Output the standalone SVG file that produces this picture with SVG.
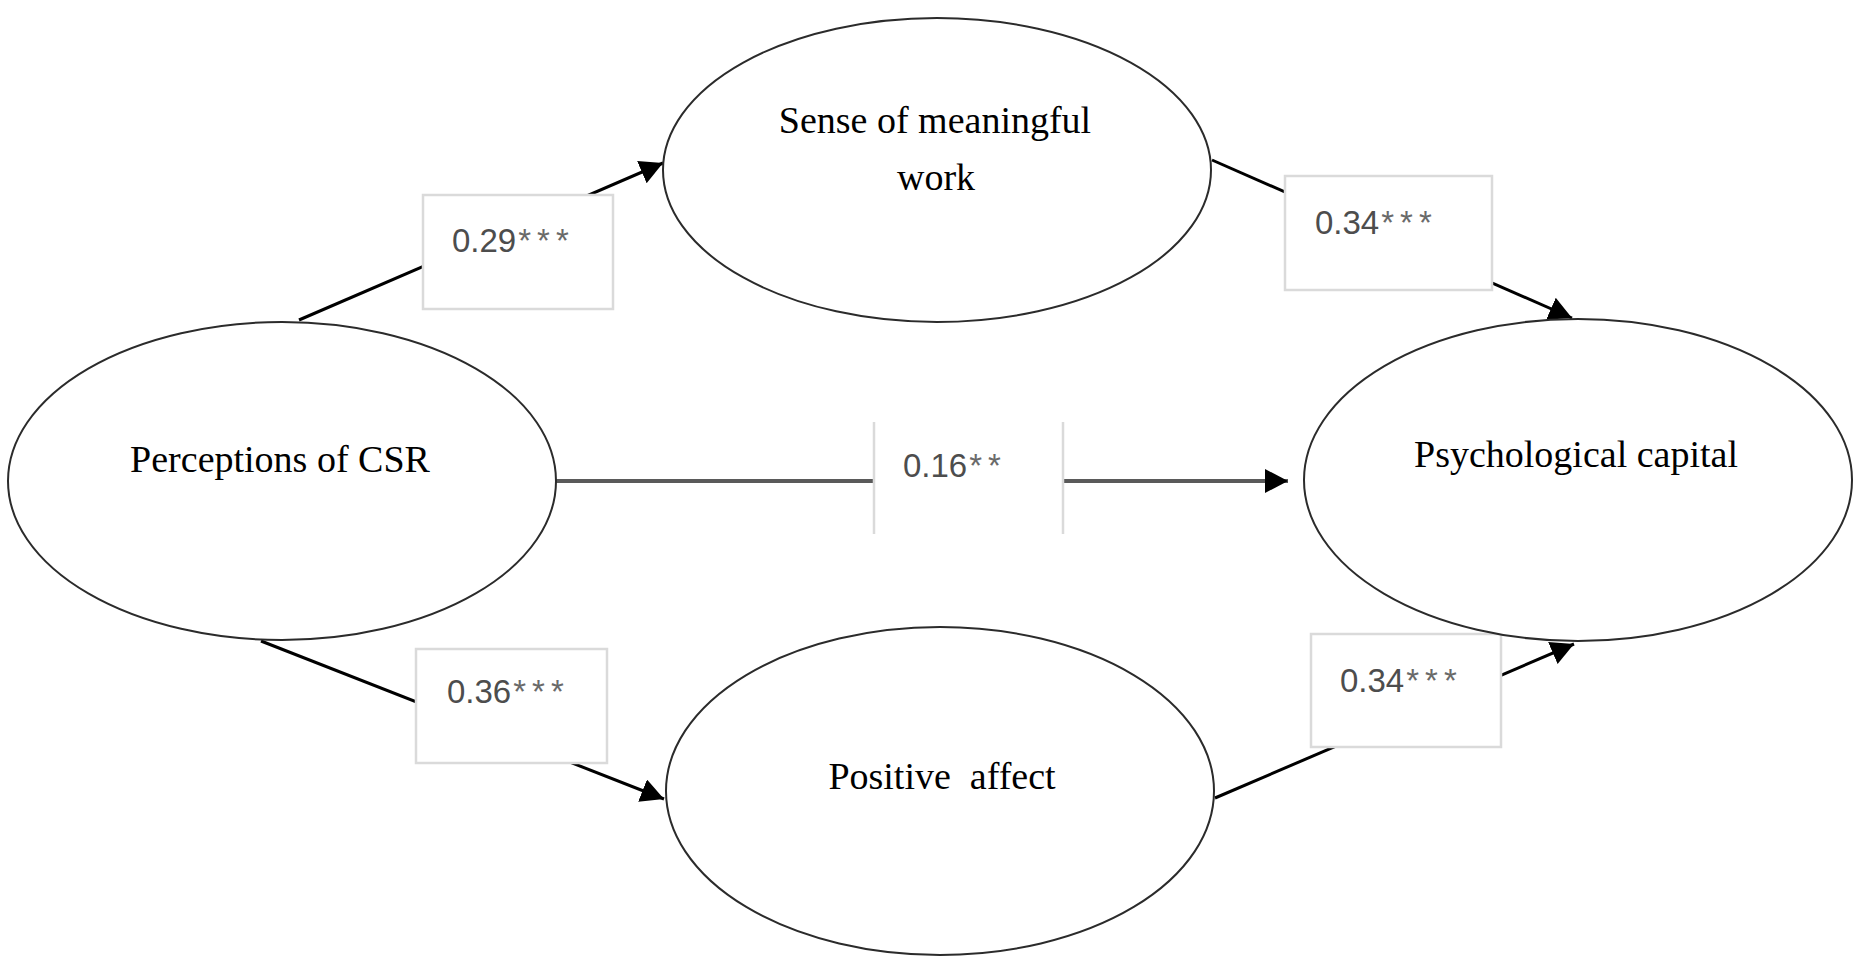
<svg xmlns="http://www.w3.org/2000/svg" width="1861" height="958" viewBox="0 0 1861 958">
  <style>
    .node ellipse { fill: #ffffff; stroke: #2b2b2b; stroke-width: 2; }
    .node text { font-family: "Liberation Serif", "Times New Roman", serif; font-size: 38px; fill: #000000; text-anchor: middle; }
    .edge { stroke: #000000; stroke-width: 3; fill: none; }
    .direct { stroke: #5a5a5a; stroke-width: 4; fill: none; }
    .label rect { fill: #ffffff; stroke: #dadada; stroke-width: 2.5; }
    .label rect.open { stroke: none; }
    .label line { stroke: #dadada; stroke-width: 2.5; }
    .label text { font-family: "Liberation Sans", Arial, sans-serif; font-size: 33px; fill: #4d4d4d; }
    .label tspan.sig { letter-spacing: 6px; fill: #6a6a6a; }
  </style>
  <defs>
    <marker id="arrow" markerUnits="userSpaceOnUse" markerWidth="26" markerHeight="26" refX="23" refY="12" orient="auto">
      <path d="M0,0 L23,12 L0,24 z" fill="#000000"/>
    </marker>
  </defs>
  <rect width="1861" height="958" fill="#ffffff"/>

  <!-- paths between constructs, with coefficient boxes on top -->
  <g id="connectors">
    <line class="edge" x1="299" y1="320" x2="663" y2="163" marker-end="url(#arrow)"/>
    <line class="edge" x1="1212" y1="160" x2="1572" y2="318" marker-end="url(#arrow)"/>
    <line class="edge" x1="261" y1="641" x2="664" y2="799" marker-end="url(#arrow)"/>
    <line class="edge" x1="1215" y1="798" x2="1574" y2="644" marker-end="url(#arrow)"/>
    <line class="direct" x1="556" y1="481" x2="1288" y2="481" marker-end="url(#arrow)"/>

    <g class="label" id="label-csr-meaning">
      <rect x="423" y="195" width="190" height="114"/>
      <text x="452" y="252">0.29<tspan class="sig" dx="2">***</tspan></text>
    </g>
    <g class="label" id="label-meaning-psycap">
      <rect x="1285" y="176" width="207" height="114"/>
      <text x="1315" y="234">0.34<tspan class="sig" dx="2">***</tspan></text>
    </g>
    <g class="label" id="label-csr-psycap">
      <rect class="open" x="874" y="422" width="189" height="112"/>
      <line x1="874" y1="422" x2="874" y2="534"/>
      <line x1="1063" y1="422" x2="1063" y2="534"/>
      <text x="903" y="477">0.16<tspan class="sig" dx="2">**</tspan></text>
    </g>
    <g class="label" id="label-csr-affect">
      <rect x="416" y="649" width="191" height="114"/>
      <text x="447" y="703">0.36<tspan class="sig" dx="2">***</tspan></text>
    </g>
    <g class="label" id="label-affect-psycap">
      <rect x="1311" y="634" width="190" height="113"/>
      <text x="1340" y="692">0.34<tspan class="sig" dx="2">***</tspan></text>
    </g>
  </g>

  <g class="node" id="node-csr">
    <ellipse cx="282" cy="481" rx="274" ry="159"/>
    <text x="280" y="472">Perceptions of CSR</text>
  </g>
  <g class="node" id="node-meaning">
    <ellipse cx="937" cy="170" rx="274" ry="152"/>
    <text x="935" y="133">Sense of meaningful</text>
    <text x="936" y="190">work</text>
  </g>
  <g class="node" id="node-psycap">
    <ellipse cx="1578" cy="480" rx="274" ry="161"/>
    <text x="1576" y="467">Psychological capital</text>
  </g>
  <g class="node" id="node-affect">
    <ellipse cx="940" cy="791" rx="274" ry="164"/>
    <text x="942" y="789" xml:space="preserve">Positive  affect</text>
  </g>
</svg>
